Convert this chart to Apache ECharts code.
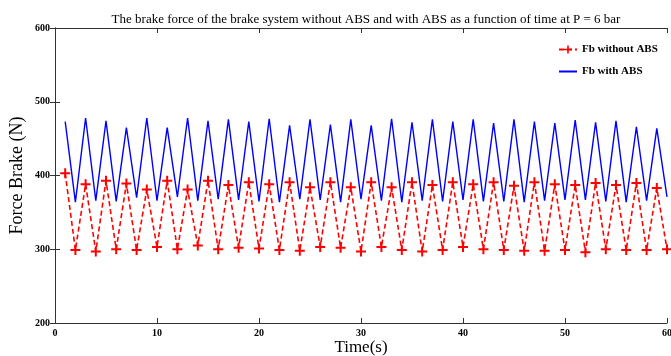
<!DOCTYPE html>
<html style="height: 100%">
<head>
<meta charset="utf-8">
</head>
<body style="height: 100%; margin: 0; background: #fff">
<div id="container" style="width: 671px; height: 356px"></div>
<script src="https://cdn.jsdelivr.net/npm/echarts@6/dist/echarts.min.js"></script>
<script type="text/javascript">
// time (s)
var time = [1, 2, 3, 4, 5, 6, 7, 8, 9, 10,
    11, 12, 13, 14, 15, 16, 17, 18, 19, 20,
    21, 22, 23, 24, 25, 26, 27, 28, 29, 30,
    31, 32, 33, 34, 35, 36, 37, 38, 39, 40,
    41, 42, 43, 44, 45, 46, 47, 48, 49, 50,
    51, 52, 53, 54, 55, 56, 57, 58, 59, 60];

// brake force without ABS (N)
var fbWithout = [403, 299, 388, 297, 393, 300, 389, 299, 381, 303,
    393, 300, 381, 305, 393, 300, 387, 302, 391, 301,
    388, 299, 391, 298, 384, 303, 391, 302, 384, 297,
    391, 303, 384, 299, 391, 297, 387, 299, 391, 303,
    388, 300, 391, 299, 386, 298, 391, 298, 388, 299,
    387, 296, 390, 300, 387, 299, 390, 299, 383, 300];

// brake force with ABS (N)
var fbWith = [473, 364, 478, 366, 474, 365, 465, 370, 478, 366,
    465, 371, 478, 366, 474, 368, 476, 367, 473, 365,
    477, 364, 468, 368, 476, 367, 469, 364, 476, 368,
    468, 366, 477, 364, 472, 366, 476, 365, 473, 367,
    476, 365, 471, 365, 476, 364, 473, 366, 471, 367,
    475, 367, 472, 365, 474, 364, 466, 366, 464, 371];

var serif = '"Liberation Serif", "Times New Roman", serif';
var plus = 'path://M4,0 L6,0 L6,4 L10,4 L10,6 L6,6 L6,10 L4,10 L4,6 L0,6 L0,4 L4,4 Z';

function pairs(xs, ys) {
    return xs.map(function (x, i) { return [x, ys[i]]; });
}

var axisLine = { show: true, lineStyle: { color: '#333', width: 1 } };
var tickIn = { show: true, inside: true, length: 5, lineStyle: { color: '#333' } };
var tickLabel = { color: '#000', fontFamily: serif, fontWeight: 'bold', fontSize: 10 };

var myChart = echarts.init(document.getElementById('container'));
var option = {
    animation: false,
    backgroundColor: '#fff',
    title: {
        text: 'The brake force of the brake system without ABS and with ABS as a function of time at P = 6 bar',
        left: 361,
        top: 8,
        textAlign: 'center',
        textStyle: { fontFamily: serif, fontWeight: 'normal', fontSize: 13, color: '#000' }
    },
    legend: {
        orient: 'vertical',
        left: 553,
        top: 39,
        itemWidth: 18,
        itemHeight: 10,
        itemGap: 11,
        textStyle: { fontFamily: serif, fontWeight: 'bold', fontSize: 11, color: '#000' },
        data: [
            { name: 'Fb without ABS' },
            { name: 'Fb with ABS', itemStyle: { opacity: 0 } }
        ]
    },
    grid: { left: 55, right: 4, top: 28, bottom: 33, outerBoundsMode: 'none' },
    xAxis: [{
        type: 'value',
        min: 0, max: 60, interval: 10,
        name: 'Time(s)',
        nameLocation: 'middle',
        nameGap: 16,
        nameMoveOverlap: false,
        nameTextStyle: { fontFamily: serif, fontSize: 17, color: '#000' },
        axisLine: axisLine,
        axisTick: tickIn,
        axisLabel: Object.assign({ margin: 5 }, tickLabel),
        splitLine: { show: false }
    }, {
        type: 'value',
        position: 'top',
        min: 0, max: 60, interval: 10,
        axisLine: axisLine,
        axisTick: tickIn,
        axisLabel: { show: false },
        splitLine: { show: false }
    }],
    yAxis: [{
        type: 'value',
        min: 200, max: 600, interval: 100,
        name: 'Force Brake (N)',
        nameLocation: 'middle',
        nameGap: 29,
        nameMoveOverlap: false,
        nameTextStyle: { fontFamily: serif, fontSize: 18, color: '#000' },
        axisLine: axisLine,
        axisTick: tickIn,
        axisLabel: Object.assign({ margin: 5 }, tickLabel),
        splitLine: { show: false }
    }, {
        type: 'value',
        position: 'right',
        min: 200, max: 600, interval: 100,
        axisLine: axisLine,
        axisTick: tickIn,
        axisLabel: { show: false },
        splitLine: { show: false }
    }],
    series: [{
        name: 'Fb without ABS',
        type: 'line',
        data: pairs(time, fbWithout),
        symbol: plus,
        symbolSize: 10,
        showSymbol: true,
        itemStyle: { color: '#ff0000' },
        lineStyle: { color: '#ff0000', width: 1.6, type: [5, 3] }
    }, {
        name: 'Fb with ABS',
        type: 'line',
        data: pairs(time, fbWith),
        symbol: 'none',
        itemStyle: { color: '#0000ff' },
        lineStyle: { color: '#0000ff', width: 1.4 }
    }]
};
myChart.setOption(option);
</script>
</body>
</html>
